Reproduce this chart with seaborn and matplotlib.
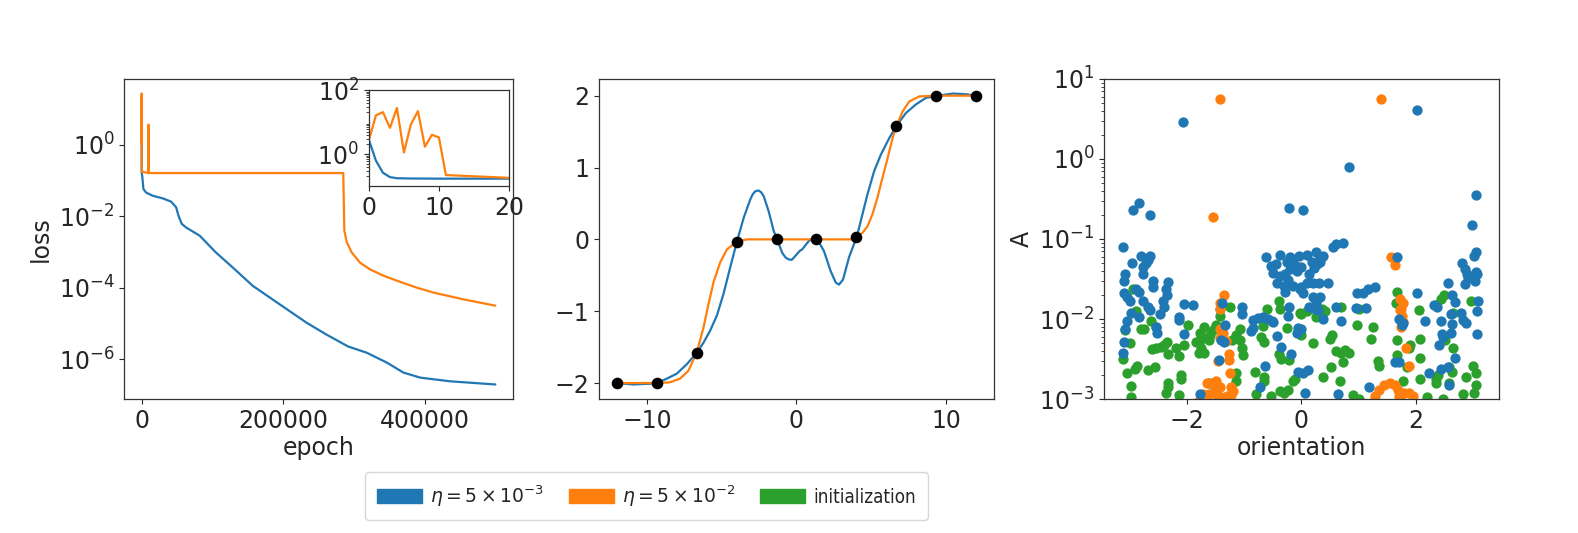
import numpy as np
import matplotlib
matplotlib.use("Agg")
import matplotlib.pyplot as plt
from matplotlib.patches import Patch
import seaborn as sns

sns.set_style("ticks")
plt.rcParams['font.family'] = ['DejaVu Sans']
plt.rcParams['axes.linewidth'] = 0.9

BLUE, ORANGE, GREEN = '#1f77b4', '#ff7f0e', '#2ca02c'

# ---------------- loss curves ----------------
blue_epoch = [0, 1, 2, 3, 4, 20, 1000, 2400, 6000, 15600, 30000, 41600, 48700, 52000, 56700,
              62900, 82000, 105000, 129000, 157000, 195000, 233000, 261000, 292000, 318000,
              347000, 370000, 394000, 436000, 500000]
blue_loss = [2.75, 0.62, 0.26, 0.19, 0.175, 0.17, 0.12, 0.059, 0.047, 0.038, 0.032, 0.026,
             0.018, 0.0105, 0.0062, 0.0049, 0.0029, 9.8e-4, 3.7e-4, 1.15e-4, 3.5e-5, 1.07e-5,
             5.0e-6, 2.3e-6, 1.55e-6, 8.1e-7, 4.3e-7, 3.1e-7, 2.45e-7, 2.0e-7]

orange_epoch = [0, 1, 2, 3, 4, 5, 6, 7, 8, 9, 10, 11, 20, 9400, 9500, 9600, 100000, 200000,
                285000, 286500, 290000, 297000, 308700, 323000, 342000, 365500, 389000,
                413000, 455000, 500000]
orange_loss = [2.75, 16.2, 20.4, 6.6, 27.5, 1.12, 8.5, 21.9, 1.7, 4.0, 3.3, 0.22, 0.18,
               0.164, 3.7, 0.164, 0.164, 0.164, 0.164, 4.0e-3, 1.9e-3, 9.8e-4, 5.1e-4,
               3.3e-4, 2.2e-4, 1.48e-4, 1.02e-4, 7.4e-5, 4.8e-5, 3.2e-5]

# inset (first 20 epochs)
inset_blue_epoch = [0, 1, 2, 3, 4, 6, 10, 20]
inset_blue_loss = [2.75, 0.62, 0.26, 0.19, 0.175, 0.172, 0.17, 0.17]
inset_orange_epoch = [0, 1, 2, 3, 4, 5, 6, 7, 8, 9, 10, 11, 20]
inset_orange_loss = [2.75, 16.2, 20.4, 6.6, 27.5, 1.12, 8.5, 21.9, 1.7, 4.0, 3.3, 0.22, 0.18]

# ---------------- fitted functions ----------------
train_x = [-12, -9.33, -6.67, -4, -1.33, 1.33, 4, 6.67, 9.33, 12]
train_y = [-2, -2, -1.58, -0.03, 0, 0, 0.03, 1.58, 2, 2]

fit_blue_x = [-12, -10.92, -9.8, -9.33, -8.68, -8.0, -7.34, -6.67, -6.22, -5.77, -5.32, -4.88,
              -4.43, -3.98, -3.53, -3.09, -2.92, -2.75, -2.53, -2.36, -2.19, -1.86, -1.52, -1.30,
              -0.96, -0.72, -0.51, -0.32, -0.18, 0.22, 0.38, 0.83, 1.10, 1.39, 1.83, 2.28, 2.62,
              2.84, 3.11, 3.51, 4.03, 4.41, 4.74, 5.19, 5.64, 6.2, 6.71, 7.32, 7.99, 8.66, 9.44,
              10.45, 11.34, 12]
fit_blue_y = [-2.0, -2.02, -2.01, -2.0, -1.94, -1.87, -1.74, -1.58, -1.44, -1.27, -1.06, -0.76,
              -0.39, -0.03, 0.30, 0.556, 0.63, 0.67, 0.68, 0.655, 0.60, 0.39, 0.115, 0.005,
              -0.185, -0.255, -0.28, -0.285, -0.255, -0.16, -0.14, -0.02, 0.01, 0.0, -0.16, -0.44,
              -0.60, -0.63, -0.56, -0.25, 0.037, 0.35, 0.625, 0.95, 1.18, 1.41, 1.59, 1.76, 1.88,
              1.97, 2.0, 2.03, 2.02, 2.0]

fit_orange_x = [-12, -9.33, -8.46, -7.79, -7.23, -6.67, -6.22, -5.88, -5.55, -5.1, -4.65, -3.98,
                -3.31, -2.0, 0.0, 2.0, 3.74, 4.03, 4.41, 4.74, 5.08, 5.41, 5.75, 6.09, 6.42,
                6.71, 7.09, 7.54, 8.21, 9.44, 12]
fit_orange_y = [-2.0, -2.0, -1.99, -1.94, -1.83, -1.58, -1.23, -0.90, -0.60, -0.32, -0.14,
                -0.03, 0.0, 0.0, 0.0, 0.0, 0.0, 0.04, 0.09, 0.18, 0.35, 0.58, 0.86, 1.13, 1.41,
                1.59, 1.78, 1.92, 1.99, 2.0, 2.0]

# ---------------- scatter: A vs orientation ----------------
blue_orient = [-3.13, -2.84, -2.94, -2.65, -2.81, -2.65, -2.96, -2.72, -2.78, -2.68, -2.77, -3.08,
               -3.11, -2.60, -2.33, -2.89, -2.85, -2.60, -3.10, -3.05, -3.00, -2.77, -2.68, -2.65,
               -2.35, -2.42, -2.37, -2.40, -2.05, -1.90, -2.98, -2.84, -3.05, -2.47, -2.15, -2.15,
               -3.09, -2.55, -2.53, -2.06, -3.11, -3.12, -1.78, -2.07,
               -1.39, -1.04, -1.04, -1.33, -1.40, -1.36, -1.44, -0.85, -0.76, -0.67, -0.58, -0.52,
               -0.49, -0.85, -0.88, -0.43, -0.36, -0.18, -0.64, -0.73, -0.22, -0.24, -0.06, -0.08,
               -0.06, -0.21, 0.02, -0.62, -0.38, -0.20, -0.04, -0.53, -0.45, -0.50, -0.38, -0.26,
               -0.20, -0.15, -0.09, -0.29, -0.23, -0.43, -0.31, -0.28, -0.15, -0.03, -0.08,
               0.83, 0.55, 0.72, 0.61, 0.10, 0.25, 0.33, 0.37, 0.19, 0.28, 0.33, 0.22, 0.13, 0.0,
               0.0, 0.03, 0.10, 0.20, 0.31, 0.46, 0.20, 0.32, 0.14, 0.23, 0.29, 0.37, 0.26, 0.60,
               0.98, 1.07, 1.16, 1.28, 0.96, 1.13, 0.69, 0.0, 0.02, 0.11, 0.07, 0.64, 1.18, 1.68,
               1.71, 1.76, 1.63, 1.71,
               2.02, 3.05, 2.98, 3.05, 3.02, 3.08, 3.03, 3.06, 3.09, 3.07, 3.08, 2.81, 2.87, 2.90,
               2.92, 2.86, 2.57, 2.63, 2.69, 2.61, 2.79, 2.82, 2.88, 2.64, 2.46, 2.69, 2.57, 2.32,
               2.38, 2.17, 2.44, 2.23, 2.44, 2.03, 1.78, 2.58, 2.62, 2.41, 2.47]
blue_A = [0.079, 0.28, 0.23, 0.2, 0.061, 0.061, 0.05, 0.05, 0.045, 0.055, 0.037, 0.036,
          0.03, 0.03, 0.029, 0.024, 0.022, 0.025, 0.021, 0.019, 0.017, 0.017, 0.014, 0.013,
          0.02, 0.017, 0.024, 0.014, 0.0155, 0.0148, 0.0118, 0.0105, 0.0095, 0.0115, 0.0107, 0.0098,
          0.0076, 0.0079, 0.0066, 0.0065, 0.0052, 0.0038, 0.00115, 2.94,
          0.016, 0.014, 0.0115, 0.0083, 0.0054, 0.0052, 0.0031, 0.0097, 0.0102, 0.0105, 0.0101, 0.0094,
          0.0092, 0.0078, 0.0071, 0.0062, 0.0045, 0.0037, 0.0026, 0.00142, 0.0142, 0.0108, 0.0078, 0.0066,
          0.0022, 0.245, 0.23, 0.059, 0.063, 0.059, 0.062, 0.046, 0.048, 0.038, 0.034, 0.052,
          0.042, 0.05, 0.046, 0.037, 0.031, 0.028, 0.026, 0.022, 0.026, 0.024, 0.04,
          0.8, 0.079, 0.089, 0.087, 0.063, 0.068, 0.06, 0.062, 0.052, 0.048, 0.052, 0.043, 0.036, 0.045,
          0.025, 0.021, 0.028, 0.028, 0.028, 0.028, 0.019, 0.019, 0.014, 0.0135, 0.0128, 0.010, 0.016, 0.014,
          0.021, 0.021, 0.024, 0.025, 0.0138, 0.0138, 0.0094, 0.0074, 0.0021, 0.0023, 0.0012, 0.00115, 0.0014, 0.059,
          0.01, 0.0085, 0.0029, 0.0029,
          4.1, 0.35, 0.15, 0.068, 0.062, 0.036, 0.03, 0.039, 0.017, 0.0125, 0.0065, 0.05, 0.042, 0.036,
          0.033, 0.027, 0.028, 0.02, 0.0165, 0.0115, 0.012, 0.0097, 0.0088, 0.0086, 0.0065, 0.0033, 0.0025, 0.015,
          0.014, 0.0095, 0.0095, 0.0021, 0.0024, 0.021, 0.0088, 0.0015, 0.0066, 0.0047, 0.006]

green_orient = [-2.95, -2.90, -2.63, -2.80, -2.75, -2.55, -1.99, -1.85, -1.78, -1.78, -3.00, -3.12,
                -3.06, -2.99, -2.98, -2.92, -2.88, -2.68, -2.56, -2.62, -2.54, -2.46, -2.40, -2.35,
                -2.34, -2.20, -2.14, -2.06, -2.10, -2.10, -2.34, -2.34, -2.37, -2.15, -1.80, -3.08,
                -1.25, -1.43, -1.42, -1.70, -1.55, -1.50, -1.72, -1.75, -1.70, -1.60, -1.62, -1.15,
                -1.08, -1.04, -1.02, -1.22, -1.07, -1.14, -1.14, -1.61, -0.82, -0.65, -0.65, -0.53,
                -0.79, -0.38, -0.30, -0.24, -0.60, -0.40, -0.38, -0.65, -0.68, -0.70, -0.66, -0.40,
                -0.35, -0.22, -0.26, -0.14, -0.12, -0.02, 0.0,
                0.10, 0.26, 0.42, 0.36, 0.69, 1.00, 0.97, 1.26, 1.22, 1.68, 1.66, 1.67, 1.67, 0.54,
                0.50, 0.20, 0.60, 0.69, 0.77, 0.83, 0.73, 0.52, 0.37, 0.67, 1.34, 1.36, 0.90, 1.00,
                1.77, 0.0,
                2.06, 2.35, 2.44, 2.66, 2.96, 2.65, 2.52, 2.07, 1.90, 1.88, 1.84, 2.07, 2.07, 2.35,
                2.39, 2.35, 2.58, 2.63, 2.58, 2.88, 3.00, 3.05, 3.05, 3.02, 2.83, 2.20, 2.48, 2.50]
green_A = [0.024, 0.0125, 0.0095, 0.0076, 0.0076, 0.0079, 0.0085, 0.0052, 0.0055, 0.0066, 0.005, 0.0032,
           0.0021, 0.00145, 0.00107, 0.0024, 0.0026, 0.0023, 0.0025, 0.0042, 0.0043, 0.0045, 0.0048, 0.0052,
           0.0036, 0.0043, 0.0034, 0.0047, 0.002, 0.0018, 0.0016, 0.0014, 0.00118, 0.00112, 0.0038, 0.0072,
           0.014, 0.0135, 0.011, 0.0079, 0.0072, 0.0085, 0.0058, 0.0043, 0.0038, 0.0063, 0.0055, 0.0063,
           0.0055, 0.0043, 0.0035, 0.0055, 0.0075, 0.0021, 0.0017, 0.0016, 0.0022, 0.0019, 0.0017, 0.0011,
           0.00115, 0.00125, 0.0012, 0.0013, 0.0135, 0.0166, 0.0135, 0.0098, 0.0082, 0.0059, 0.0052, 0.0036,
           0.0032, 0.0031, 0.0078, 0.0017, 0.0018, 0.0118, 0.0115,
           0.0125, 0.0105, 0.0125, 0.0135, 0.014, 0.0135, 0.0083, 0.0079, 0.0056, 0.022, 0.016, 0.0054, 0.0035, 0.0063,
           0.0056, 0.005, 0.004, 0.0038, 0.0041, 0.0038, 0.0029, 0.0025, 0.0019, 0.0017, 0.003, 0.0026, 0.00112, 0.001,
           0.0017, 0.0063,
           0.013, 0.0151, 0.0178, 0.012, 0.017, 0.0043, 0.0054, 0.0056, 0.0048, 0.0043, 0.0025, 0.0033, 0.0018, 0.0018,
           0.002, 0.0016, 0.0025, 0.0022, 0.0016, 0.0019, 0.0026, 0.0021, 0.0015, 0.00118, 0.00115, 0.00105, 0.001, 0.02]

orange_orient = [-1.42, -1.54, -1.35, -1.42, -1.42, -1.42, -1.37, -1.42, -1.32, -1.27, -1.27, -1.46,
                 -1.25, -1.66, -1.57, -1.49, -1.43, -1.52, -1.49, -1.23, -1.23, -1.20, -1.73, -1.61,
                 -1.80, -1.40, -1.30, -1.84,
                 1.39, 1.57, 1.64, 1.72, 1.78, 1.72, 1.75, 1.76, 1.78, 1.75, 1.83, 1.89, 1.28, 1.36,
                 1.45, 1.55, 1.64, 1.69, 1.71, 1.80, 1.88, 1.95, 1.22, 1.75]
orange_A = [5.7, 0.19, 0.02, 0.016, 0.0135, 0.0074, 0.0066, 0.0058, 0.0053, 0.0036, 0.0031, 0.003,
            0.0021, 0.0016, 0.0016, 0.0017, 0.0014, 0.0013, 0.00115, 0.0014, 0.00112, 0.00125, 0.00115, 0.00115,
            0.00095, 0.00105, 0.00108, 0.0009,
            5.7, 0.059, 0.047, 0.018, 0.016, 0.013, 0.0135, 0.011, 0.0092, 0.008, 0.0043, 0.0026, 0.0011, 0.0013,
            0.0015, 0.0016, 0.0015, 0.0013, 0.0011, 0.0012, 0.0012, 0.0011, 0.0009, 0.00095]

legend_labels = [r'$\eta=5\times10^{-3}$', r'$\eta=5\times10^{-2}$', 'initialization']

# ---------------- figure ----------------
FS = 17
fig = plt.figure(figsize=(15.78, 5.33), dpi=100)
ax1 = fig.add_axes([0.0786, 0.2514, 0.2465, 0.6004])
ax2 = fig.add_axes([0.3796, 0.2514, 0.2503, 0.6004])
ax3 = fig.add_axes([0.6996, 0.2514, 0.2503, 0.6004])

# left: loss
sns.lineplot(x=blue_epoch, y=blue_loss, ax=ax1, color=BLUE, lw=1.6, sort=False, estimator=None)
sns.lineplot(x=orange_epoch, y=orange_loss, ax=ax1, color=ORANGE, lw=1.6, sort=False, estimator=None)
ax1.set_yscale('log')
ax1.set_xlabel('epoch', fontsize=FS, labelpad=2)
ax1.set_ylabel('loss', fontsize=FS)
ax1.set_xticks([0, 200000, 400000])
ax1.set_yticks([1e0, 1e-2, 1e-4, 1e-6])
ax1.yaxis.set_minor_locator(matplotlib.ticker.NullLocator())
ax1.tick_params(labelsize=FS)

axin = fig.add_axes([0.2338, 0.651, 0.0887, 0.180])
sns.lineplot(x=inset_blue_epoch, y=inset_blue_loss, ax=axin, color=BLUE, lw=1.6, sort=False, estimator=None)
sns.lineplot(x=inset_orange_epoch, y=inset_orange_loss, ax=axin, color=ORANGE, lw=1.6, sort=False, estimator=None)
axin.set_yscale('log')
axin.set_xlim(0, 20)
axin.set_ylim(0.1, 100)
axin.set_yticks([1e0, 1e2])
axin.set_xticks([0, 10, 20])
axin.tick_params(labelsize=FS)
axin.set_xlabel('')
axin.set_ylabel('')

# middle: fits
sns.lineplot(x=fit_blue_x, y=fit_blue_y, ax=ax2, color=BLUE, lw=1.6, sort=False, estimator=None)
sns.lineplot(x=fit_orange_x, y=fit_orange_y, ax=ax2, color=ORANGE, lw=1.6, sort=False, estimator=None)
sns.scatterplot(x=train_x, y=train_y, ax=ax2, color='black', s=70, linewidth=0, zorder=5)
ax2.set_yticks([-2, -1, 0, 1, 2])
ax2.set_xticks([-10, 0, 10])
ax2.tick_params(labelsize=FS)

# right: scatter
sns.scatterplot(x=green_orient, y=green_A, ax=ax3, color=GREEN, s=55, linewidth=0)
sns.scatterplot(x=orange_orient, y=orange_A, ax=ax3, color=ORANGE, s=55, linewidth=0)
sns.scatterplot(x=blue_orient, y=blue_A, ax=ax3, color=BLUE, s=55, linewidth=0)
ax3.set_yscale('log')
ax3.set_ylim(1e-3, 1e1)
ax3.set_xlim(-3.456, 3.456)
ax3.set_xticks([-2, 0, 2])
ax3.set_xlabel('orientation', fontsize=FS, labelpad=2)
ax3.set_ylabel('A', fontsize=FS)
ax3.tick_params(labelsize=FS)

for ax in (ax1, ax2, ax3, axin):
    for sp in ax.spines.values():
        sp.set_visible(True)
        sp.set_color('#333333')

handles = [Patch(facecolor=c, edgecolor=c) for c in (BLUE, ORANGE, GREEN)]
fig.legend(handles, legend_labels, loc='center', bbox_to_anchor=(0.4097, 0.0694), ncol=3,
           prop={'size': 13.5, 'stretch': 'condensed'}, handlelength=2.4, handleheight=0.75,
           handletextpad=0.45, columnspacing=1.3, frameon=True, fancybox=True,
           borderpad=0.6)

fig.savefig('out.png', dpi=100)
